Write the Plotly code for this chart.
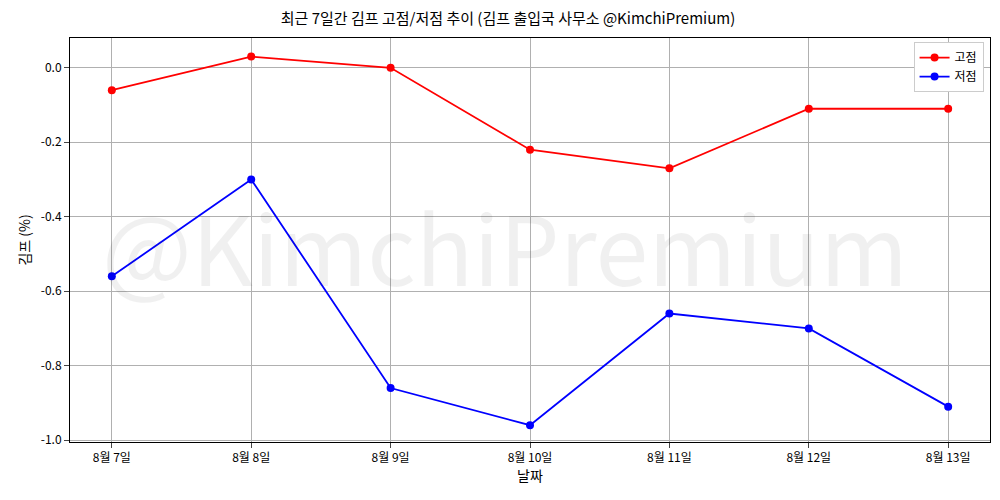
import plotly.graph_objects as go

dates = ["8월 7일", "8월 8일", "8월 9일", "8월 10일", "8월 11일", "8월 12일", "8월 13일"]
high = [-0.06, 0.03, 0.0, -0.22, -0.27, -0.11, -0.11]
low = [-0.56, -0.30, -0.86, -0.96, -0.66, -0.70, -0.91]
yticks = [0.0, -0.2, -0.4, -0.6, -0.8, -1.0]

font = "Noto Sans CJK KR"
x = list(range(len(dates)))

fig = go.Figure()
fig.add_trace(go.Scatter(x=x, y=high, mode="lines+markers", name="고점",
                         line=dict(color="red", width=1.8), marker=dict(color="red", size=8)))
fig.add_trace(go.Scatter(x=x, y=low, mode="lines+markers", name="저점",
                         line=dict(color="blue", width=1.8), marker=dict(color="blue", size=8)))

fig.add_annotation(text="@KimchiPremium", x=0.473, y=0.49, xref="paper", yref="paper",
                   showarrow=False, font=dict(size=95, color="rgba(0,0,0,0.06)", family=font))

fig.update_layout(
    width=1000, height=500,
    paper_bgcolor="white", plot_bgcolor="white",
    margin=dict(l=62, r=18, t=30, b=66),
    font=dict(family=font, size=12, color="black"),
    title=dict(text="최근 7일간 김프 고점/저점 추이 (김프 출입국 사무소 @KimchiPremium)",
               x=0.5, xanchor="center", y=0.978, yanchor="middle", yref="container",
               font=dict(size=15)),
    legend=dict(x=0.993, y=0.99, xanchor="right", yanchor="top",
                bordercolor="#ccc", borderwidth=1, bgcolor="white"),
    showlegend=True,
)
fig.update_xaxes(tickvals=x, ticktext=dates, range=[-0.3, 6.3], showgrid=True,
                 gridcolor="#b0b0b0", showline=True, linecolor="black", mirror=True,
                 ticks="outside", title=dict(text="날짜", standoff=2), zeroline=False)
fig.update_yaxes(tickvals=yticks, ticktext=[f"{v:.1f}" for v in yticks],
                 range=[-1.005, 0.08], showgrid=True, gridcolor="#b0b0b0", showline=True,
                 linecolor="black", mirror=True, ticks="outside",
                 title=dict(text="김프 (%)", standoff=6), zeroline=False)

fig.write_html("out.html")
